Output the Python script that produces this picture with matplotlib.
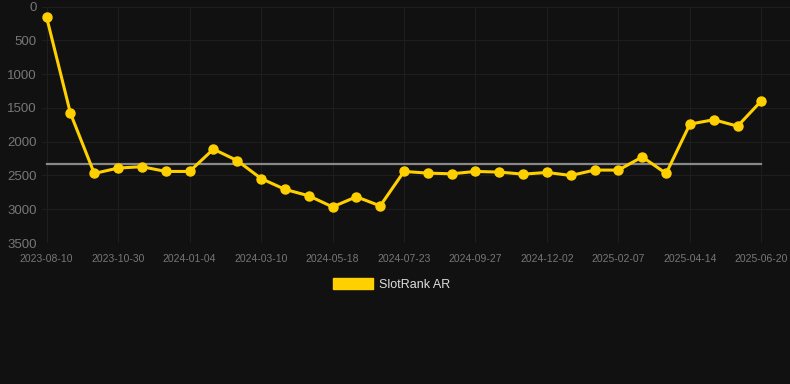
import matplotlib.pyplot as plt
import matplotlib.patches as mpatches
import numpy as np

plt.rcParams['font.family'] = ['Liberation Sans', 'DejaVu Sans']

# ---- data ----
tick_labels = ['2023-08-10', '2023-10-30', '2024-01-04', '2024-03-10', '2024-05-18',
               '2024-07-23', '2024-09-27', '2024-12-02', '2025-02-07', '2025-04-14',
               '2025-06-20']
rank = [160, 1580, 2470, 2390, 2370, 2440, 2440, 2110, 2280, 2545,
        2705, 2800, 2965, 2815, 2950, 2440, 2465, 2475, 2440, 2450,
        2480, 2455, 2500, 2420, 2420, 2225, 2470, 1740, 1675, 1770,
        1395]
avg_rank = 2330
series_name = 'SlotRank AR'

bg = '#111111'
gold = '#FFD000'
grid_c = '#1e1e1e'
txt_c = '#777777'

x = np.arange(len(rank))

fig = plt.figure(figsize=(7.9, 3.84), dpi=100, facecolor=bg)
ax = fig.add_axes([0.053, 0.367, 0.947, 0.616])
ax.set_facecolor(bg)

ax.plot([x[0], x[-1]], [avg_rank, avg_rank], color='#888888', lw=1.6, zorder=2)
ax.plot(x, rank, color=gold, lw=2.2, marker='o', ms=6.5, zorder=3)

ax.set_ylim(3500, 0)
ax.set_yticks(np.arange(0, 3501, 500))
ax.set_xlim(-0.2, 31.2)
ax.set_xticks(x[::3])
ax.set_xticklabels(tick_labels)

ax.grid(True, color=grid_c, lw=0.8)
ax.set_axisbelow(True)
for s in ax.spines.values():
    s.set_visible(False)
ax.tick_params(axis='y', colors=txt_c, labelsize=9.5, length=0, pad=3.5)
ax.tick_params(axis='x', colors=txt_c, labelsize=7.5, length=0, pad=8)

handle = mpatches.Patch(color=gold, label=series_name)
leg = fig.legend(handles=[handle], loc='center', bbox_to_anchor=(0.496, 0.26),
                 frameon=False, fontsize=9, handlelength=3.2, handleheight=1.0,
                 handletextpad=0.5)
for t in leg.get_texts():
    t.set_color('#dddddd')

fig.savefig('out.png', dpi=100, facecolor=bg)
